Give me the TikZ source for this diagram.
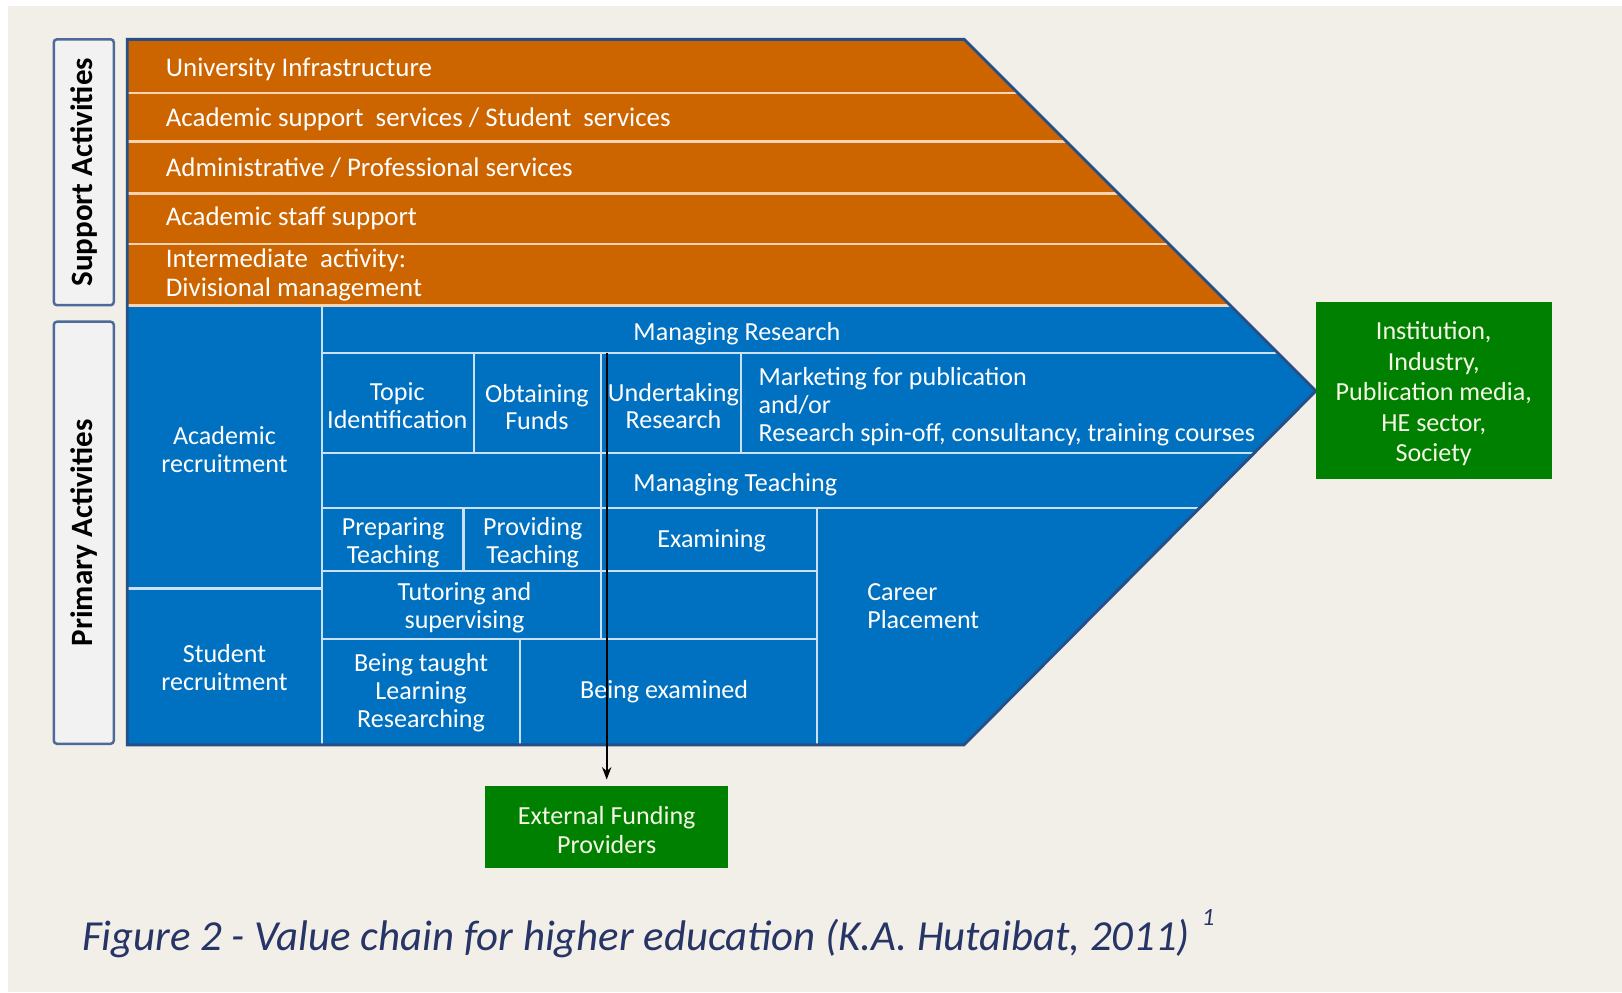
\documentclass[tikz,border=0pt]{standalone}
\usepackage{fontspec}
\setmainfont{Carlito}
\usetikzlibrary{arrows.meta}

\definecolor{paper}{RGB}{242,239,232}
\definecolor{supporange}{RGB}{204,100,0}
\definecolor{primblue}{RGB}{0,112,192}
\definecolor{edgenavy}{RGB}{38,78,135}
\definecolor{peachline}{RGB}{250,212,178}
\definecolor{paleline}{RGB}{205,225,244}
\definecolor{outgreen}{RGB}{0,128,0}
\definecolor{greentext}{RGB}{244,247,228}
\definecolor{captionblue}{RGB}{38,52,102}
\definecolor{tabedge}{RGB}{78,106,155}
\definecolor{tabfill}{RGB}{242,242,242}

\begin{document}
\begin{tikzpicture}[x=0.5pt,y=-0.5pt,
  txt/.style={inner sep=0pt, text=white, yshift=-1.25pt,
    font=\fontsize{12.6pt}{13.5pt}\selectfont},
  stxt/.style={inner sep=0pt, text=white, yshift=-1pt,
    font=\fontsize{13pt}{14pt}\selectfont, anchor=west},
  sepO/.style={draw=peachline, line width=1.2pt},
  sepB/.style={draw=paleline, line width=1.1pt},
  tab/.style={draw=tabedge, fill=tabfill, line width=1.2pt, rounded corners=1.5pt,
    rotate=90, inner sep=0pt, font=\fontsize{15pt}{16pt}\selectfont\bfseries},
  gbox/.style={fill=outgreen, inner sep=0pt},
  gtxt/.style={text=greentext, inner sep=0pt, align=center, yshift=-1.5pt},
]
% page and margins
\fill[white] (0,0) rectangle (1568,959);
\fill[paper] (8,6) rectangle (1568,959);
\useasboundingbox (0,0) rectangle (1568,959);

% chevron: support band and primary band
\fill[supporange] (123,38) -- (932,38) -- (1189,295) -- (123,295) -- cycle;
\fill[primblue] (123,295) -- (1189,295) -- (1272,378) -- (932,720) -- (123,720) -- cycle;

% rows of the support band
\foreach \yy in {90,137,187,236}
  \draw[sepO] (123,\yy) -- ({932+\yy-38},\yy);
\draw[draw=peachline, line width=1.4pt] (123,295.5) -- (1189,295.5);

% cells of the primary band
\draw[sepB] (311,297) -- (311,720);
\draw[sepB] (123,569) -- (311,569);
\draw[sepB] (311,341) -- (1235,341);
\draw[sepB] (458,341) -- (458,438);
\draw[sepB] (581,341) -- (581,618);
\draw[sepB] (716,341) -- (716,438);
\draw[sepB] (311,438) -- (1214,438);
\draw[sepB] (311,491) -- (1161,491);
\draw[sepB] (448,491) -- (448,552);
\draw[sepB] (790,491) -- (790,720);
\draw[sepB] (311,552) -- (790,552);
\draw[sepB] (311,618) -- (790,618);
\draw[sepB] (503,618) -- (503,720);

% outline of the chevron
\draw[edgenavy, line width=1.4pt, line join=miter]
  (123,38) -- (932,38) -- (1272,378) -- (932,720) -- (123,720) -- cycle;

% side tabs
\node[tab, minimum width=128.5pt, minimum height=29pt] (suptab) at (81,166.5) {Support Activities};
\node[tab, minimum width=204pt, minimum height=29pt] (primtab) at (81,515) {Primary Activities};

% support activities
\node[stxt] (infra) at (160,65) {University Infrastructure};
\node[stxt] (acsupp) at (160,113) {Academic support \ services / Student \ services};
\node[stxt] (admin) at (160,160) {Administrative / Professional services};
\node[stxt] (staff) at (160,209) {Academic staff support};
\node[stxt, align=left] (divmgmt) at (160,264) {Intermediate \ activity:\\Divisional management};

% primary activities
\node[txt, align=center] (acrec) at (217,432) {Academic\\recruitment};
\node[txt, align=center] (strec) at (217,643) {Student\\recruitment};
\node[txt, anchor=west] (mres) at (612,320) {Managing Research};
\node[txt, align=center] (topic) at (384,390) {Topic\\Identification};
\node[txt, align=center] (funds) at (519,391) {Obtaining\\Funds};
\node[txt, align=center] (undert) at (651,390) {Undertaking\\Research};
\node[txt, anchor=west, align=left] (market) at (733,391)
  {Marketing for publication\\and/or\\Research spin-off, consultancy, training courses};
\node[txt, anchor=west] (mteach) at (612,466) {Managing Teaching};
\node[txt, align=center] (prep) at (380,522) {Preparing\\Teaching};
\node[txt, align=center] (prov) at (515,522) {Providing\\Teaching};
\node[txt] (exam) at (688,520) {Examining};
\node[txt, align=center] (tutor) at (449,585) {Tutoring and\\supervising};
\node[txt, anchor=west, align=left] (career) at (838,583) {Career\\Placement};
\node[txt, align=center] (taught) at (407,667) {Being taught\\Learning\\Researching};
\node[txt] (examined) at (642,666) {Being examined};

% external parties
\node[gbox, minimum width=114pt, minimum height=85.5pt] (society) at (1386,377.5) {};
\node[gtxt, font=\fontsize{12.6pt}{14.75pt}\selectfont] (societytxt) at (society.center)
  {Institution,\\Industry,\\Publication media,\\HE sector,\\Society};
\node[gbox, minimum width=117.5pt, minimum height=39.5pt] (funders) at (586.5,799.5) {};
\node[gtxt, font=\fontsize{12.6pt}{14pt}\selectfont] (funderstxt) at (funders.center)
  {External Funding\\Providers};

% funding flow
\coordinate (fundsrc) at (586.5,341);
\draw[black, line width=0.8pt, -{Stealth[length=6pt,width=4.5pt]}, shorten >=3pt]
  (fundsrc) -- (funders.north);

% caption
\node[inner sep=0pt, anchor=west, text=captionblue,
  font=\fontsize{20.7pt}{22pt}\selectfont\itshape] (caption) at (79,907)
  {Figure 2 - Value chain for higher education (K.A. Hutaibat, 2011)};
\node[inner sep=0pt, text=captionblue, font=\fontsize{12pt}{14pt}\selectfont\itshape]
  (capnote) at (1168,887) {1};
\end{tikzpicture}
\end{document}
